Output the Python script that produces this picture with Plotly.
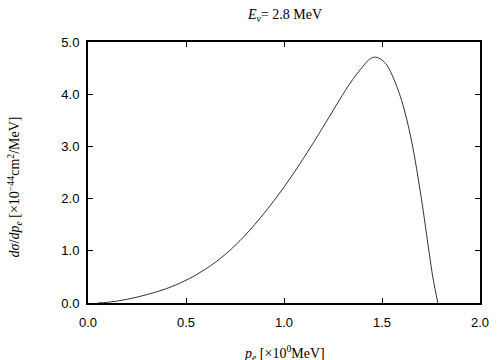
import plotly.graph_objects as go

p_e = [0.05, 0.1, 0.15, 0.2, 0.25, 0.3, 0.35, 0.4, 0.45, 0.5, 0.55, 0.6, 0.65, 0.7,
       0.75, 0.8, 0.85, 0.9, 0.95, 1.0, 1.05, 1.1, 1.15, 1.2, 1.25, 1.3, 1.35, 1.4,
       1.43, 1.46, 1.49, 1.52, 1.55, 1.6, 1.65, 1.7, 1.74, 1.76, 1.785]
dsigma = [0.0, 0.014, 0.038, 0.072, 0.112, 0.16, 0.213, 0.275, 0.348, 0.435, 0.535, 0.65,
          0.78, 0.93, 1.1, 1.29, 1.5, 1.725, 1.965, 2.22, 2.49, 2.775, 3.07, 3.375, 3.685,
          3.995, 4.28, 4.52, 4.65, 4.71, 4.68, 4.58, 4.38, 3.88, 3.12, 2.02, 0.98, 0.48, 0.0]

x_ticks = [0.0, 0.5, 1.0, 1.5, 2.0]
x_tick_labels = ["0.0", "0.5", "1.0", "1.5", "2.0"]
y_ticks = [0.0, 1.0, 2.0, 3.0, 4.0, 5.0]
y_tick_labels = ["0.0", "1.0", "2.0", "3.0", "4.0", "5.0"]

fig = go.Figure()
fig.add_trace(go.Scatter(x=p_e, y=dsigma, mode="lines",
                         line=dict(color="#333333", width=1, shape="spline", smoothing=1.0),
                         showlegend=False, hoverinfo="skip"))

axis_common = dict(showline=True, linecolor="black", linewidth=2, mirror="allticks",
                   ticks="inside", ticklen=5, tickwidth=1, tickcolor="black",
                   showgrid=False, zeroline=False,
                   tickfont=dict(family="Liberation Sans, Arial", size=13, color="black"))

fig.update_xaxes(range=[0, 2], tickvals=x_ticks, ticktext=x_tick_labels,
                 ticklabelstandoff=6, **axis_common)
fig.update_yaxes(range=[0, 5], tickvals=y_ticks, ticktext=y_tick_labels,
                 ticklabelstandoff=4, **axis_common)

serif = dict(family="Liberation Serif, Times New Roman, serif", size=14, color="black")
fig.update_layout(
    width=504, height=360,
    margin=dict(l=88, r=24, t=42, b=57),
    plot_bgcolor="white", paper_bgcolor="white",
    annotations=[
        dict(text="<i>E</i><sub><i>ν</i></sub>= 2.8 MeV", xref="paper", yref="paper",
             x=0.5, y=1, yshift=27, showarrow=False, font=serif,
             xanchor="center", yanchor="middle"),
        dict(text="<i>p<sub>e</sub></i> [×10<sup>0</sup>MeV]", xref="paper", yref="paper",
             x=0.5, y=0, yshift=-50, showarrow=False, font=serif,
             xanchor="center", yanchor="middle"),
        dict(text="<i>dσ</i>/<i>dp<sub>e</sub></i> [×10<sup>−44</sup>cm<sup>2</sup>/MeV]",
             xref="paper", yref="paper", x=0, y=0.443, xshift=-73, textangle=-90,
             showarrow=False, font=serif, xanchor="center", yanchor="middle"),
    ],
)

fig.write_html("out.html", config={"displayModeBar": False},
               post_script="document.body.style.margin='0';document.body.style.overflow='hidden';")
